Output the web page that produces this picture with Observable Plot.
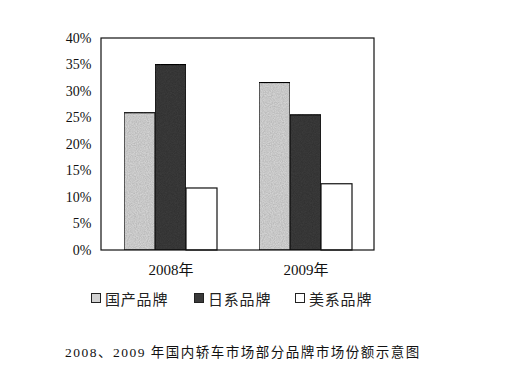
<!DOCTYPE html>
<html><head><meta charset="utf-8">
<script src="https://cdn.jsdelivr.net/npm/d3@7"></script>
<script src="https://cdn.jsdelivr.net/npm/@observablehq/plot@0.6"></script>
<style>
body{margin:0;background:#fff;}
#wrap{position:relative;width:506px;height:380px;overflow:hidden;background:#fff;}
#legend{position:absolute;left:0;top:287px;width:506px;height:22px;font-family:"Noto Sans CJK SC",sans-serif;font-size:15px;color:#222;}
.item{position:absolute;top:0;display:flex;align-items:center;height:22px;letter-spacing:0.8px;}
.sw{width:8px;height:8px;border:1px solid #222;margin-right:4px;box-sizing:content-box;}
#caption{position:absolute;left:65px;top:341px;font-family:"Liberation Serif","Noto Sans CJK SC",serif;font-size:13.5px;color:#111;white-space:nowrap;letter-spacing:1.5px;}
</style></head>
<body><div id="wrap"><div id="chart"></div><div id="legend"></div><div id="caption"></div></div>
<script>
const years = ["2008年", "2009年"];
const brands = ["国产品牌", "日系品牌", "美系品牌"];
const share2008 = [0.259, 0.350, 0.117];
const share2009 = [0.316, 0.255, 0.125];
const yTicks = [0, 0.05, 0.10, 0.15, 0.20, 0.25, 0.30, 0.35, 0.40];
const fills = ["#d2d2d2", "#3a3a3a", "#ffffff"];
const captionText = "2008、2009 年国内轿车市场部分品牌市场份额示意图";

const data = [];
[share2008, share2009].forEach((arr, i) => arr.forEach((v, j) => data.push({year: years[i], brand: brands[j], value: v})));

const mL = 101, mR = 132, mT = 38, mB = 35, W = 506, H = 285;
const plot = Plot.plot({
  width: W, height: H,
  marginLeft: mL, marginRight: mR, marginTop: mT, marginBottom: mB,
  style: {background: "#fff", color: "#111", fontFamily: "'Liberation Serif','Noto Sans CJK SC',serif", fontSize: "14px", overflow: "visible"},
  fx: {domain: years, paddingInner: 0.3137, paddingOuter: 0.162, label: null, tickSize: 0, tickPadding: 14},
  x: {domain: brands, padding: 0, axis: null},
  y: {domain: [0, 0.4], ticks: yTicks, tickFormat: d3.format(".0%"), tickSize: 0, tickPadding: 33, label: null},
  color: {domain: brands, range: fills},
  marks: [
    Plot.barY(data, {fx: "year", x: "brand", y: "value", fill: "brand", stroke: "#111", strokeWidth: 1.2})
  ]
});
document.getElementById("chart").appendChild(plot);

const svg = d3.select(plot);
// larger year labels
svg.selectAll("g[aria-label='fx-axis tick label'] text, g[aria-label='fx-axis'] text").style("font-size", "15px");

// paper grain texture on the bars
const defs = svg.insert("defs", ":first-child");
const f = defs.append("filter").attr("id", "grain").attr("x", 0).attr("y", 0).attr("width", 1).attr("height", 1);
f.append("feTurbulence").attr("type", "fractalNoise").attr("baseFrequency", 0.9).attr("numOctaves", 2).attr("seed", 3).attr("result", "n");
f.append("feColorMatrix").attr("in", "n").attr("type", "matrix")
  .attr("values", "0 0 0 0 0  0 0 0 0 0  0 0 0 0 0  0 0 0 0.45 -0.12").attr("result", "na");
f.append("feComposite").attr("in", "na").attr("in2", "SourceGraphic").attr("operator", "in").attr("result", "nc");
f.append("feMerge").call(m => { m.append("feMergeNode").attr("in", "SourceGraphic"); m.append("feMergeNode").attr("in", "nc"); });
svg.selectAll("g[aria-label='bar'] rect").filter(function(){ return d3.select(this).attr("fill") !== fills[2]; }).attr("filter", "url(#grain)");

// outer frame around plot area
const yr = plot.scale("y").range;
svg.append("rect")
  .attr("x", mL).attr("y", Math.min(...yr))
  .attr("width", W - mL - mR).attr("height", Math.abs(yr[0] - yr[1]))
  .attr("fill", "none").attr("stroke", "#111").attr("stroke-width", 1.2);

// legend
const lx = [91, 194, 295];
const leg = document.getElementById("legend");
brands.forEach((b, i) => {
  const it = document.createElement("div");
  it.className = "item"; it.style.left = lx[i] + "px";
  const sw = document.createElement("div"); sw.className = "sw"; sw.style.background = fills[i];
  const t = document.createElement("span"); t.textContent = b;
  it.appendChild(sw); it.appendChild(t); leg.appendChild(it);
});
document.getElementById("caption").textContent = captionText;
</script></body></html>
